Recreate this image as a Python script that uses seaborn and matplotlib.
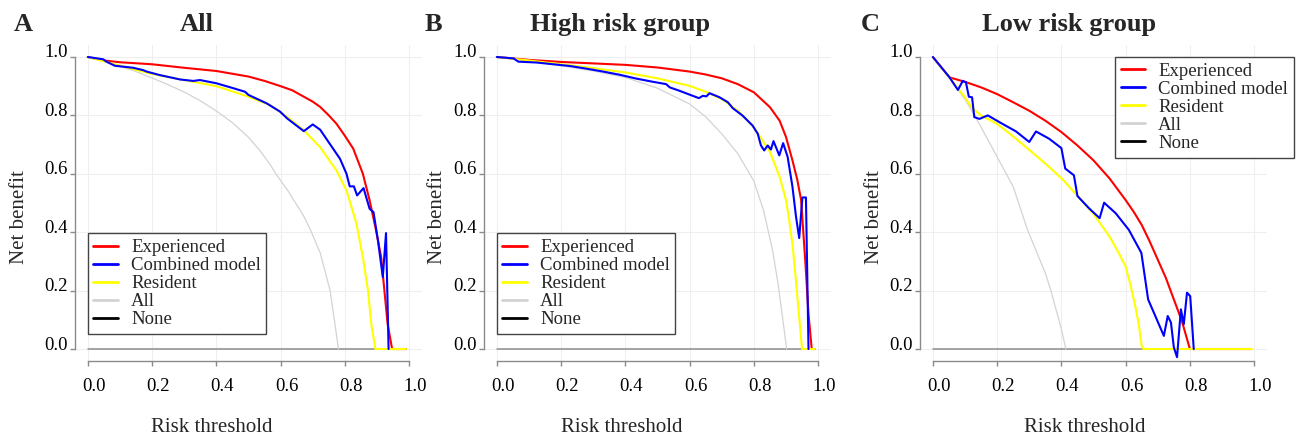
import matplotlib
matplotlib.use("Agg")
import matplotlib.pyplot as plt
import matplotlib.transforms as mtrans
from matplotlib.lines import Line2D
import seaborn as sns
import pandas as pd

# ---------------- data ----------------
series_names = ["Experienced", "Combined model", "Resident", "All", "None"]
series_colors = ["#FF0000", "#0000FF", "#FFFF00", "#D3D3D3", "#000000"]
tick_values = [0.0, 0.2, 0.4, 0.6, 0.8, 1.0]
tick_labels = ["0.0", "0.2", "0.4", "0.6", "0.8", "1.0"]
panel_letters = ["A", "B", "C"]
panel_titles = ["All", "High risk group", "Low risk group"]
x_label = "Risk threshold"
y_label = "Net benefit"

none_x = [0.0, 0.99]
none_y = [0.0, 0.0]

# Panel A
A_exp_x = [0, 0.05, 0.1, 0.2, 0.3, 0.4, 0.5, 0.55, 0.6, 0.636, 0.7, 0.723, 0.75, 0.774, 0.8, 0.826,
           0.856, 0.877, 0.897, 0.913, 0.923, 0.933, 0.947, 0.99]
A_exp_y = [1.0, 0.988, 0.982, 0.975, 0.963, 0.952, 0.933, 0.918, 0.90, 0.886, 0.847, 0.829, 0.80, 0.771,
           0.73, 0.686, 0.60, 0.509, 0.406, 0.314, 0.2, 0.086, 0.0, 0.0]
A_res_x = [0, 0.1, 0.2, 0.3, 0.4, 0.5, 0.569, 0.621, 0.672, 0.723, 0.774, 0.805, 0.836, 0.856, 0.872,
           0.882, 0.895, 0.99]
A_res_y = [1.0, 0.97, 0.942, 0.921, 0.90, 0.864, 0.834, 0.794, 0.749, 0.691, 0.611, 0.543, 0.429, 0.314,
           0.2, 0.086, 0.0, 0.0]
A_all_x = [0, 0.05, 0.1, 0.15, 0.2, 0.25, 0.3, 0.35, 0.4, 0.45, 0.5, 0.535, 0.569, 0.585, 0.621, 0.672,
           0.692, 0.723, 0.754, 0.769, 0.78]
A_all_y = [1.0, 0.985, 0.968, 0.95, 0.928, 0.905, 0.88, 0.85, 0.815, 0.775, 0.725, 0.68, 0.629, 0.60,
           0.545, 0.455, 0.41, 0.33, 0.2, 0.086, 0.0]
A_comb_x = [0, 0.048, 0.058, 0.084, 0.141, 0.172, 0.183, 0.224, 0.287, 0.328, 0.349, 0.4, 0.453, 0.489,
            0.5, 0.557, 0.598, 0.621, 0.64, 0.672, 0.7, 0.723, 0.749, 0.785, 0.805, 0.815, 0.828, 0.838,
            0.858, 0.877, 0.889, 0.903, 0.918, 0.928, 0.936]
A_comb_y = [1.0, 0.992, 0.984, 0.970, 0.963, 0.955, 0.95, 0.938, 0.923, 0.918, 0.921, 0.91, 0.893, 0.881,
            0.87, 0.841, 0.813, 0.789, 0.773, 0.746, 0.769, 0.751, 0.709, 0.651, 0.60, 0.557, 0.557, 0.526,
            0.551, 0.48, 0.469, 0.371, 0.246, 0.397, 0.0]

# Panel B
B_exp_x = [0, 0.1, 0.2, 0.3, 0.4, 0.5, 0.6, 0.65, 0.7, 0.75, 0.8, 0.85, 0.88, 0.9, 0.92, 0.935, 0.947,
           0.96, 0.97, 0.98, 0.99]
B_exp_y = [1.0, 0.99, 0.983, 0.978, 0.973, 0.964, 0.95, 0.94, 0.927, 0.907, 0.879, 0.828, 0.782, 0.726,
           0.646, 0.58, 0.51, 0.30, 0.12, 0.0, 0.0]
B_res_x = [0, 0.1, 0.2, 0.3, 0.4, 0.5, 0.6, 0.65, 0.7, 0.75, 0.8, 0.85, 0.88, 0.9, 0.91, 0.92, 0.93,
           0.94, 0.95, 0.99]
B_res_y = [1.0, 0.988, 0.975, 0.962, 0.947, 0.927, 0.901, 0.881, 0.856, 0.816, 0.76, 0.675, 0.59, 0.51,
           0.44, 0.36, 0.245, 0.12, 0.0, 0.0]
B_all_x = [0, 0.1, 0.2, 0.3, 0.4, 0.5, 0.6, 0.65, 0.7, 0.75, 0.8, 0.83, 0.858, 0.875, 0.889, 0.902]
B_all_y = [1.0, 0.987, 0.97, 0.952, 0.93, 0.893, 0.839, 0.795, 0.737, 0.669, 0.575, 0.475, 0.339, 0.225,
           0.11, 0.0]
B_comb_x = [0, 0.052, 0.067, 0.124, 0.176, 0.228, 0.279, 0.331, 0.383, 0.434, 0.486, 0.527, 0.538, 0.569,
            0.6, 0.629, 0.641, 0.652, 0.662, 0.693, 0.719, 0.734, 0.765, 0.796, 0.812, 0.822, 0.832, 0.843,
            0.853, 0.861, 0.879, 0.891, 0.905, 0.92, 0.931, 0.941, 0.951, 0.962, 0.97]
B_comb_y = [1.0, 0.995, 0.984, 0.981, 0.975, 0.969, 0.96, 0.95, 0.939, 0.926, 0.915, 0.907, 0.896, 0.884,
            0.871, 0.859, 0.867, 0.865, 0.876, 0.862, 0.845, 0.825, 0.799, 0.765, 0.737, 0.697, 0.68, 0.697,
            0.683, 0.712, 0.663, 0.705, 0.658, 0.556, 0.454, 0.38, 0.519, 0.519, 0.0]

# Panel C
C_exp_x = [0, 0.052, 0.1, 0.15, 0.2, 0.25, 0.3, 0.35, 0.4, 0.45, 0.5, 0.55, 0.6, 0.625, 0.65, 0.675, 0.7,
           0.725, 0.75, 0.775, 0.8, 0.99]
C_exp_y = [1.0, 0.93, 0.915, 0.896, 0.873, 0.845, 0.816, 0.782, 0.743, 0.697, 0.646, 0.584, 0.51, 0.47,
           0.425, 0.368, 0.306, 0.244, 0.17, 0.096, 0.0, 0.0]
C_res_x = [0, 0.05, 0.1, 0.12, 0.15, 0.2, 0.25, 0.3, 0.35, 0.4, 0.45, 0.5, 0.55, 0.575, 0.6, 0.615, 0.63,
           0.64, 0.65, 0.655, 0.993]
C_res_y = [1.0, 0.932, 0.862, 0.828, 0.800, 0.771, 0.728, 0.682, 0.635, 0.585, 0.525, 0.462, 0.385, 0.336,
           0.283, 0.22, 0.147, 0.09, 0.011, 0.0, 0.0]
C_all_x = [0, 0.05, 0.1, 0.13, 0.15, 0.2, 0.25, 0.294, 0.35, 0.367, 0.4, 0.414]
C_all_y = [1.0, 0.93, 0.855, 0.80, 0.76, 0.658, 0.556, 0.41, 0.26, 0.202, 0.068, 0.0]
C_comb_x = [0, 0.052, 0.078, 0.093, 0.103, 0.112, 0.122, 0.129, 0.145, 0.171, 0.207, 0.259, 0.3, 0.321,
            0.362, 0.4, 0.412, 0.439, 0.45, 0.486, 0.519, 0.533, 0.569, 0.61, 0.649, 0.67, 0.719, 0.731,
            0.741, 0.75, 0.76, 0.772, 0.781, 0.791, 0.801, 0.812]
C_comb_y = [1.0, 0.93, 0.887, 0.918, 0.913, 0.864, 0.862, 0.794, 0.788, 0.8, 0.777, 0.745, 0.709, 0.745,
            0.72, 0.688, 0.618, 0.595, 0.524, 0.482, 0.448, 0.501, 0.465, 0.408, 0.329, 0.17, 0.045, 0.113,
            0.091, 0.006, -0.028, 0.136, 0.085, 0.193, 0.181, 0.0]

panels_data = [
    (A_exp_x, A_exp_y, A_comb_x, A_comb_y, A_res_x, A_res_y, A_all_x, A_all_y),
    (B_exp_x, B_exp_y, B_comb_x, B_comb_y, B_res_x, B_res_y, B_all_x, B_all_y),
    (C_exp_x, C_exp_y, C_comb_x, C_comb_y, C_res_x, C_res_y, C_all_x, C_all_y),
]

# ---------------- styling ----------------
sns.set_style("white")
plt.rcParams["font.family"] = ["Liberation Serif", "DejaVu Serif"]

W, H = 1296, 438
fig = plt.figure(figsize=(W / 100, H / 100), dpi=100)

ax_lefts = [75, 484, 920]
ax_w = 347
ax_top, ax_bot = 45.3, 360.7
legend_anchor = [("lower left", (0.0, 0.051)), ("lower left", (0.0, 0.051)), ("upper left", (0.567, 1.0))]
letter_x = [23, 433, 870]
title_x = [197, 620, 1069]
ylab_x = [20, 437, 875]
xlab_x = [212, 622, 1085]

spine_col = "#8a8a8a"

for i, data in enumerate(panels_data):
    ex, ey, cx, cy, rx, ry, alx, aly = data
    ax = fig.add_axes([ax_lefts[i] / W, (H - ax_bot) / H, ax_w / W, (ax_bot - ax_top) / H])
    ax.set_xlim(-0.04, 1.04)
    ax.set_ylim(-0.04, 1.04)

    df_none = pd.DataFrame({"t": none_x, "nb": none_y})
    df_all = pd.DataFrame({"t": alx, "nb": aly})
    df_exp = pd.DataFrame({"t": ex, "nb": ey})
    df_res = pd.DataFrame({"t": rx, "nb": ry})
    df_comb = pd.DataFrame({"t": cx, "nb": cy})

    sns.lineplot(data=df_none, x="t", y="nb", ax=ax, color="#8c8c8c", linewidth=1.1,
                 estimator=None, sort=False, legend=False)
    sns.lineplot(data=df_all, x="t", y="nb", ax=ax, color=series_colors[3], linewidth=0.9,
                 estimator=None, sort=False, legend=False)
    sns.lineplot(data=df_exp, x="t", y="nb", ax=ax, color=series_colors[0], linewidth=1.5,
                 estimator=None, sort=False, legend=False)
    sns.lineplot(data=df_res, x="t", y="nb", ax=ax, color=series_colors[2], linewidth=1.5,
                 estimator=None, sort=False, legend=False)
    sns.lineplot(data=df_comb, x="t", y="nb", ax=ax, color=series_colors[1], linewidth=1.5,
                 estimator=None, sort=False, legend=False)

    ax.set_xticks(tick_values)
    ax.set_xticklabels(tick_labels)
    ax.set_yticks(tick_values)
    ax.set_yticklabels(tick_labels)
    ax.set_xlabel("")
    ax.set_ylabel("")
    ax.grid(True, color="#efefef", linewidth=0.8)
    ax.set_axisbelow(True)

    for s in ["top", "right"]:
        ax.spines[s].set_visible(False)
    for s in ["left", "bottom"]:
        ax.spines[s].set_color(spine_col)
        ax.spines[s].set_linewidth(1.0)
        ax.spines[s].set_bounds(0, 1)
    ax.tick_params(axis="both", direction="out", length=3.5, width=1.0, color=spine_col,
                   labelsize=13.5, labelcolor="black")
    ax.tick_params(axis="x", pad=9.0, bottom=True)
    ax.tick_params(axis="y", pad=1.5, left=True)

    dx = mtrans.ScaledTranslation(6 / 100, 0, fig.dpi_scale_trans)
    for lbl in ax.get_xticklabels():
        lbl.set_transform(lbl.get_transform() + dx)
    dy = mtrans.ScaledTranslation(0, 6 / 100, fig.dpi_scale_trans)
    for lbl in ax.get_yticklabels():
        lbl.set_transform(lbl.get_transform() + dy)

    handles = [Line2D([], [], color=c, linewidth=2.0) for c in series_colors]
    loc, anchor = legend_anchor[i]
    leg = ax.legend(handles, series_names, loc=loc, bbox_to_anchor=anchor,
                    bbox_transform=ax.transData, frameon=True, fancybox=False,
                    edgecolor="#444444", framealpha=1.0, fontsize=13.5, borderaxespad=0,
                    borderpad=0.3, labelspacing=0.05, handlelength=1.3, handletextpad=0.7)
    leg.get_frame().set_linewidth(1.0)

    fig.text(letter_x[i] / W, 1 - 31 / H, panel_letters[i], fontsize=19, fontweight="bold",
             ha="center", va="baseline")
    fig.text(title_x[i] / W, 1 - 31 / H, panel_titles[i], fontsize=19, fontweight="bold",
             ha="center", va="baseline")
    fig.text(ylab_x[i] / W, 1 - 217 / H, y_label, fontsize=15, rotation=90,
             ha="center", va="center")
    fig.text(xlab_x[i] / W, 1 - 432.5 / H, x_label, fontsize=15, ha="center", va="baseline")

fig.savefig("out.png", dpi=100)
